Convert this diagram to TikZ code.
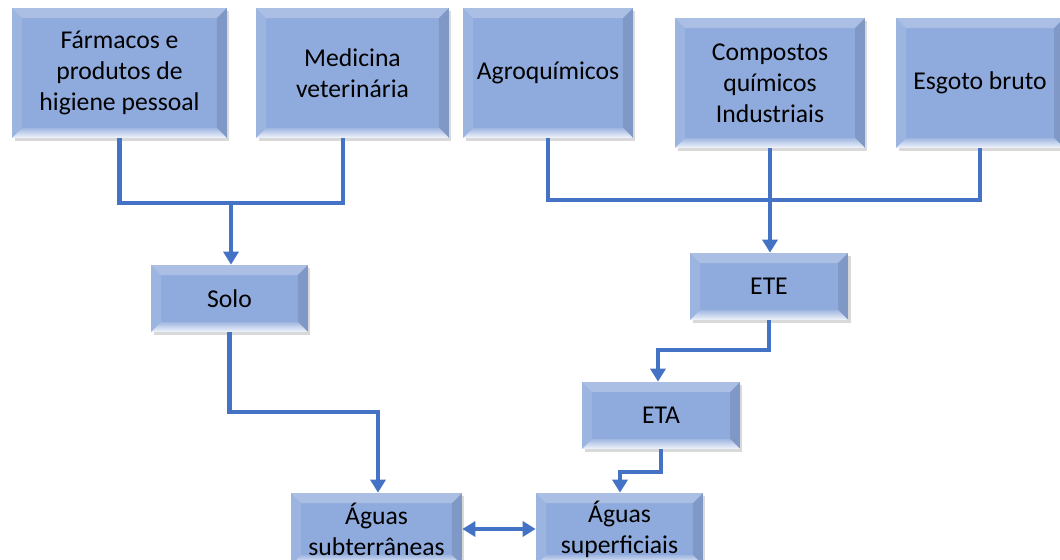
\documentclass[tikz,border=0pt]{standalone}
\usepackage{fontspec}
\setmainfont{Carlito}
\usetikzlibrary{arrows.meta,shadows}

\definecolor{boxblue}{RGB}{143,170,220}
\definecolor{lineblue}{RGB}{68,114,196}
\newcommand\bevw{0.2cm}

\tikzset{
  box/.style={fill=boxblue, align=center, inner sep=2pt,
    font=\fontsize{14.6}{17.6}\selectfont,
    drop shadow={shadow xshift=.5mm, shadow yshift=-.6mm, opacity=.3},
    path picture={
      \coordinate (nw) at (path picture bounding box.north west);
      \coordinate (ne) at (path picture bounding box.north east);
      \coordinate (sw) at (path picture bounding box.south west);
      \coordinate (se) at (path picture bounding box.south east);
      \fill[white,opacity=.25] (nw) -- (ne) -- ([shift={(-\bevw,-\bevw)}]ne) -- ([shift={(\bevw,-\bevw)}]nw) -- cycle;
      \fill[white,opacity=.12] (nw) -- (sw) -- ([shift={(\bevw,\bevw)}]sw) -- ([shift={(\bevw,-\bevw)}]nw) -- cycle;
      \fill[black,opacity=.1] (ne) -- (se) -- ([shift={(-\bevw,\bevw)}]se) -- ([shift={(-\bevw,-\bevw)}]ne) -- cycle;
      \shade[top color=boxblue!85!white, bottom color=boxblue!12!white] (sw) -- (se) -- ([shift={(-\bevw,\bevw)}]se) -- ([shift={(\bevw,\bevw)}]sw) -- cycle;
    }},
  ln/.style={draw=lineblue, line width=2.3pt},
  arr/.style={ln, -{Triangle[length=2.6mm,width=3mm]}},
  arrb/.style={ln, {Triangle[length=2.6mm,width=3mm]}-{Triangle[length=2.6mm,width=3mm]}}
}

\begin{document}
\begin{tikzpicture}[x=0.02cm,y=-0.02cm]
  \clip (0,0) rectangle (1060,560);

  \node[box, minimum width=4.3cm, minimum height=2.6cm] (farm) at (119.5,73) {Fármacos e\\produtos de\\higiene pessoal};
  \node[box, minimum width=3.86cm, minimum height=2.6cm] (medv) at (352.5,73) {Medicina\\veterinária};
  \node[box, minimum width=3.4cm, minimum height=2.6cm] (agro) at (548,73) {Agroquímicos};
  \node[box, minimum width=3.8cm, minimum height=2.6cm] (comp) at (770,83) {Compostos\\químicos\\Industriais};
  \node[box, minimum width=3.36cm, minimum height=2.6cm] (esg) at (980,83) {Esgoto bruto};

  \node[box, minimum width=3.14cm, minimum height=1.34cm] (solo) at (229.5,298.5) {Solo};
  \node[box, minimum width=3.16cm, minimum height=1.34cm] (ete) at (769,286.5) {ETE};
  \node[box, minimum width=3.16cm, minimum height=1.34cm] (eta) at (661,415.5) {ETA};
  \node[box, minimum width=3.42cm, minimum height=1.44cm] (sub) at (376.5,529) {Águas\\subterrâneas};
  \node[box, minimum width=3.34cm, minimum height=1.44cm] (sup) at (619.5,529) {Águas\\superficiais};

  \coordinate (b1) at (231,203);
  \coordinate (b2) at (770,200);
  \coordinate (k1) at (658,350);
  \coordinate (k2) at (378,412);
  \coordinate (k3) at (620,472);

  \draw[ln] (farm.south) |- (b1);
  \draw[ln] ([xshift=-0.19cm]medv.south) |- (b1);
  \draw[arr] (b1) -- (b1 |- solo.north);

  \draw[ln] (agro.south) |- (b2) -| (esg.south);
  \draw[arr] (comp.south) -- (comp.south |- ete.north);

  \draw[arr] (ete.south) |- (k1) -- (k1 |- eta.north);
  \draw[arr] (solo.south) |- (k2) -- (k2 |- sub.north);
  \draw[arr] (eta.south) |- (k3) -- (k3 |- sup.north);
  \draw[arrb] (sub.east) -- (sup.west);
\end{tikzpicture}
\end{document}
